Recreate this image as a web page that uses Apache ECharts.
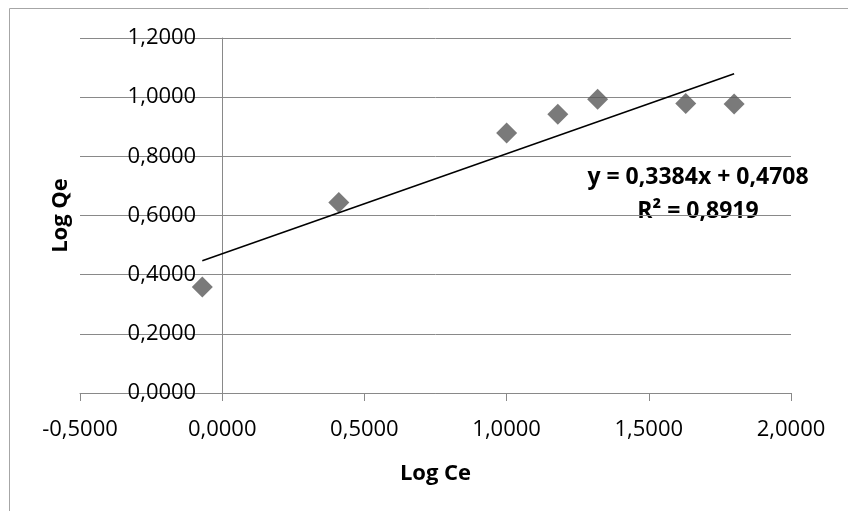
<!DOCTYPE html>
<html>
<head>
<meta charset="utf-8">
<script src="https://cdn.jsdelivr.net/npm/echarts@6/dist/echarts.min.js"></script>
<style>
html, body { margin: 0; padding: 0; background: #fff; }
#main { width: 848px; height: 511px; }
</style>
</head>
<body>
<div id="main"></div>
<script>
// measured points (Log Ce, Log Qe)
var logCe = [-0.07, 0.41, 1.00, 1.18, 1.32, 1.63, 1.80];
var logQe = [0.358, 0.644, 0.879, 0.942, 0.993, 0.979, 0.977];

// linear trendline ends
var trendX = [-0.07, 1.80];
var trendY = [0.447, 1.079];

var equationLines = ['y = 0,3384x + 0,4708', 'R² = 0,8919'];

function fmt(v) {
    return v.toFixed(4).replace('.', ',');
}

function pairs(xs, ys) {
    var out = [];
    for (var i = 0; i < xs.length; i++) {
        out.push([xs[i], ys[i]]);
    }
    return out;
}

var gray = '#898989';
var font = '"Open Sans", "Liberation Sans", sans-serif';

// grid spans x -0.5..2.0 over 711px, so x=0 sits 142px right of the left edge
var gridLeft = 80, gridRight = 57;
var yAxisShift = (848 - gridLeft - gridRight) * 0.5 / 2.5;

var myChart = echarts.init(document.getElementById('main'));
var option = {
    animation: false,
    textStyle: { fontFamily: font },
    grid: {
        left: gridLeft, right: gridRight, top: 38, bottom: 118,
        containLabel: false,
        outerBoundsMode: 'none'
    },
    xAxis: {
        type: 'value',
        min: -0.5,
        max: 2,
        interval: 0.5,
        name: 'Log Ce',
        nameLocation: 'middle',
        nameGap: 70,
        nameTextStyle: { fontSize: 22, fontWeight: 'bold', color: '#000', fontFamily: font },
        axisLine: { onZero: true, lineStyle: { color: gray, width: 1 } },
        axisTick: { show: true, length: 8, lineStyle: { color: gray } },
        axisLabel: { fontSize: 22, color: '#000', margin: 26, formatter: fmt },
        splitLine: { show: false }
    },
    yAxis: {
        type: 'value',
        min: 0,
        max: 1.2,
        interval: 0.2,
        position: 'left',
        offset: -yAxisShift,
        name: 'Log Qe',
        nameLocation: 'middle',
        nameGap: 150,
        nameTextStyle: { fontSize: 22, fontWeight: 'bold', color: '#000', fontFamily: font },
        axisLine: { show: true, onZero: false, lineStyle: { color: gray, width: 1 } },
        axisTick: { show: true, length: 7, lineStyle: { color: gray } },
        axisLabel: { fontSize: 22, color: '#000', margin: 26, formatter: fmt },
        splitLine: { show: true, lineStyle: { color: gray, width: 1 } }
    },
    series: [
        {
            name: 'Log Qe',
            type: 'scatter',
            symbol: 'diamond',
            symbolSize: 21,
            itemStyle: { color: '#595959' },
            data: pairs(logCe, logQe)
        },
        {
            name: 'Linear',
            type: 'line',
            showSymbol: false,
            symbol: 'none',
            lineStyle: { color: '#000', width: 1.5 },
            data: pairs(trendX, trendY),
            z: 3
        }
    ],
    graphic: [
        {
            type: 'rect',
            silent: true,
            shape: { x: 9.5, y: 8.5, width: 900, height: 600 },
            style: { fill: 'none', stroke: '#a6a6a6', lineWidth: 1 }
        },
        {
            type: 'text',
            silent: true,
            x: 698,
            y: 194,
            style: {
                text: equationLines.join('\n'),
                font: 'bold 23px ' + font,
                fill: '#000',
                align: 'center',
                textAlign: 'center',
                verticalAlign: 'middle',
                textVerticalAlign: 'middle',
                lineHeight: 34
            }
        }
    ]
};
myChart.setOption(option);
</script>
</body>
</html>
